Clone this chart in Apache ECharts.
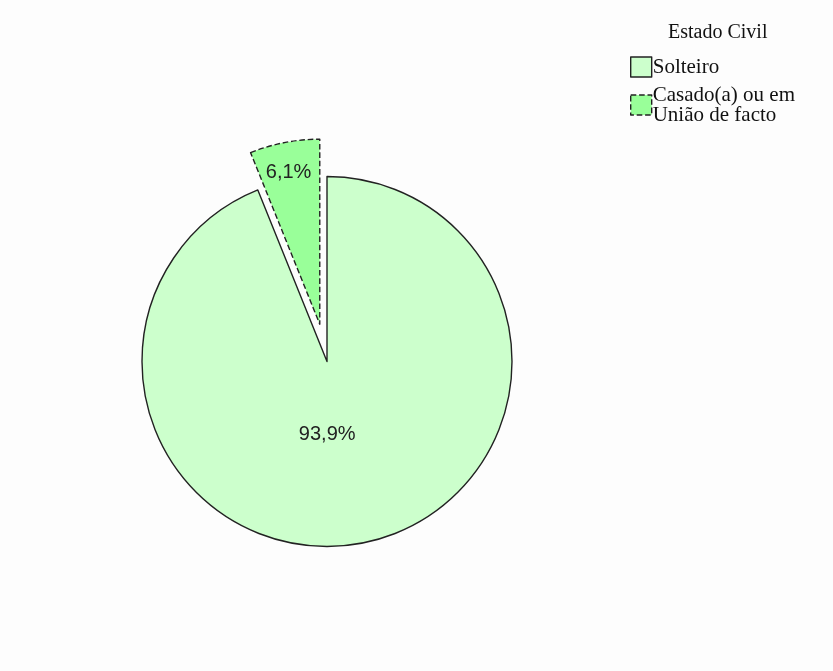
<!DOCTYPE html>
<html>
<head>
<meta charset="utf-8">
<script src="https://cdn.jsdelivr.net/npm/echarts@6/dist/echarts.min.js"></script>
<style>
  html, body { margin: 0; padding: 0; background: #fdfdfd; }
  #chart { width: 833px; height: 671px; }
</style>
</head>
<body>
<div id="chart"></div>
<script>
// Estado civil dos inquiridos
const categories = ['Solteiro', 'Casado(a) ou em União de facto'];
const percentages = [93.9, 6.1];
const legendTitle = 'Estado Civil';

const fills = ['#ccffcc', '#99ff99'];
const borderTypes = ['solid', 'dashed'];
// label nudges (px) for each slice
const labelShift = [[-18, -21], [-13, -58]];

const chart = echarts.init(document.getElementById('chart'));

const pieData = categories.map((name, i) => ({
  name: name,
  value: percentages[i],
  selected: i === 1,
  itemStyle: {
    color: fills[i],
    borderColor: '#222222',
    borderWidth: 1.4,
    borderType: borderTypes[i]
  }
}));

chart.setOption({
  backgroundColor: '#fdfdfd',
  animation: false,
  title: {
    text: legendTitle,
    left: 663,
    top: 18,
    textStyle: {
      fontFamily: 'Liberation Serif',
      fontWeight: 'normal',
      fontSize: 20,
      color: '#111'
    }
  },
  legend: {
    orient: 'vertical',
    left: 625,
    top: 50,
    itemWidth: 21,
    itemHeight: 20,
    itemGap: 4,
    icon: 'rect',
    selectedMode: false,
    data: categories.map((name, i) => ({
      name: name,
      itemStyle: {
        color: fills[i],
        borderColor: '#222222',
        borderWidth: 1.4,
        borderType: borderTypes[i]
      }
    })),
    formatter: function (name) {
      return name === categories[1] ? 'Casado(a) ou em\nUnião de facto' : name;
    },
    textStyle: {
      fontFamily: 'Liberation Serif',
      fontSize: 21,
      lineHeight: 20,
      color: '#111',
      padding: [4, 0, 0, -4]
    }
  },
  series: [{
    type: 'pie',
    center: [327, 361.5],
    radius: [0, 185],
    startAngle: 90,
    clockwise: true,
    selectedMode: 'single',
    selectedOffset: 38,
    avoidLabelOverlap: false,
    label: {
      show: true,
      position: 'inside',
      fontFamily: 'Liberation Sans',
      fontSize: 20,
      color: '#222',
      formatter: function (p) {
        return p.value.toFixed(1).replace('.', ',') + '%';
      }
    },
    labelLine: { show: false },
    emphasis: { disabled: true },
    labelLayout: function (params) {
      const s = labelShift[params.dataIndex];
      return { dx: s[0], dy: s[1] };
    },
    data: pieData
  }]
});
</script>
</body>
</html>
